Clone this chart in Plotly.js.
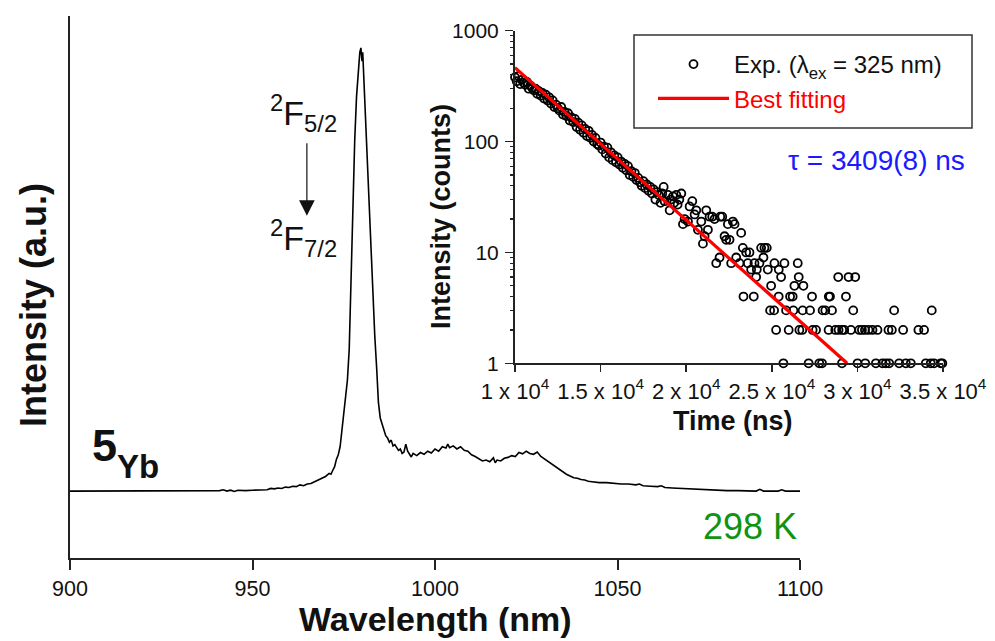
<!DOCTYPE html>
<html>
<head>
<meta charset="utf-8">
<script src="https://cdn.plot.ly/plotly-3.0.1.min.js"></script>
<style>html,body{margin:0;padding:0;background:#fff}#chart{width:995px;height:641px}</style>
</head>
<body>
<div id="chart"></div>
<script>
// ---- Main emission spectrum (298 K) ----
const wavelengthNm = [900,940,941,942,943,944,945,946,947,948,950,952,954,955,956,957,958,959,960,961,962,963,964,965,966,967,968,969,970,971,971.5,972,972.5,973,973.5,974,974.5,975,975.5,976,976.5,977,977.5,978,978.5,979,979.4,979.7,980,980.2,980.5,981,981.5,982,982.5,983,983.5,984,984.5,985,985.5,986,986.5,987,987.5,988,988.5,989,989.5,990,990.5,991,991.5,992,992.5,993,993.5,994,995,996,997,998,999,1000,1001,1002,1003,1003.5,1004,1005,1006,1007,1008,1009,1010,1011,1012,1013,1014,1015,1016,1016.5,1017,1018,1019,1020,1021,1022,1023,1024,1025,1026,1027,1028,1029,1030,1031,1032,1033,1034,1035,1036,1037,1038,1039,1040,1041,1042,1043,1045,1047,1049,1051,1053,1055,1056,1057,1059,1061,1062,1063,1065,1067,1069,1071,1073,1075,1078,1080,1083,1088,1089,1090,1094,1095,1096,1100];
const intensityAu = [0,0,0.001,0.003,0,0.002,-0.001,0.002,0.001,0.001,0.002,0.002,0.003,0.006,0.005,0.007,0.006,0.009,0.008,0.011,0.010,0.014,0.012,0.016,0.017,0.021,0.025,0.030,0.033,0.040,0.038,0.047,0.055,0.072,0.082,0.100,0.14,0.18,0.21,0.25,0.32,0.50,0.66,0.79,0.89,0.95,0.99,1.0,0.97,0.99,0.93,0.83,0.72,0.62,0.52,0.43,0.35,0.28,0.20,0.165,0.15,0.14,0.125,0.12,0.11,0.115,0.102,0.105,0.098,0.092,0.095,0.085,0.088,0.106,0.09,0.082,0.077,0.085,0.08,0.087,0.083,0.09,0.086,0.095,0.09,0.1,0.097,0.106,0.098,0.102,0.095,0.1,0.092,0.09,0.082,0.078,0.072,0.068,0.07,0.066,0.075,0.064,0.07,0.068,0.074,0.076,0.08,0.078,0.087,0.084,0.09,0.085,0.083,0.088,0.078,0.072,0.066,0.06,0.055,0.048,0.043,0.038,0.034,0.03,0.029,0.026,0.025,0.022,0.021,0.019,0.019,0.017,0.016,0.016,0.014,0.016,0.012,0.011,0.010,0.012,0.008,0.007,0.006,0.005,0.004,0.003,0.002,0.002,0.001,0.001,0,0.004,0,0,0.003,0,0];
const wavelengthTicks = [900,950,1000,1050,1100];

// ---- Inset: decay curve ----
const timeNs = [10000,10100,10200,10300,10400,10500,10600,10700,10800,10900,11000,11100,11200,11300,11400,11500,11600,11700,11800,11900,12000,12100,12200,12300,12400,12500,12600,12700,12800,12900,13000,13100,13200,13300,13400,13500,13600,13700,13800,13900,14000,14100,14200,14300,14400,14500,14600,14700,14800,14900,15000,15100,15200,15300,15400,15500,15600,15700,15800,15900,16000,16100,16200,16300,16400,16500,16600,16700,16800,16900,17000,17100,17200,17300,17400,17500,17600,17700,17800,17900,18000,18100,18200,18300,18400,18500,18600,18684,18742,18937,19034,19100,19228,19300,19422,19500,19600,19714,19811,19908,20102,20200,20355,20491,20588,20685,20880,20977,21074,21171,21268,21365,21521,21657,21754,21948,21987,22104,22240,22337,22434,22531,22628,22726,22823,22920,23114,23211,23308,23346,23503,23600,23697,23794,23946,23988,24086,24124,24280,24377,24513,24571,24707,24766,24902,24960,25135,25154,25252,25403,25407,25543,25677,25737,25835,25986,26068,26219,26260,26320,26515,26573,26610,26780,26802,26845,27152,27233,27350,27385,27583,27775,27933,27968,28125,28318,28330,28399,28516,28708,28880,28900,29098,29110,29232,29332,29483,29623,29757,29873,30008,30107,30264,30440,30456,30649,30882,31080,31173,31464,31663,31814,31855,32012,32146,32438,32671,32828,33120,33563,33895,33994,34285,34343,34478,34868,34961];
const counts = [380,350,390,330,360,340,325,345,300,320,305,290,300,270,285,260,275,245,265,235,250,220,235,205,215,200,190,205,175,185,170,180,155,165,150,160,135,148,128,140,120,130,112,125,108,115,100,108,95,92,98,85,90,78,88,72,80,68,75,65,72,62,66,58,63,55,60,50,54,48,52,45,47,43,40,44,38,41,36,39,34,37,30,35,33,28,34,39,29,33,24,30,32,28,33,27,30,34,18,20,19,26,29,22,24,16,19,12,14,24,16,21,21,20,8,9,21,21,14,13,18,13,8,19,18,9,8,15,11,4,10,8,10,7,4,8,6,7,8,11,9,11,11,7,3,5,3,8,2,4,7,6,1,8,3,2,4,4,3,5,8,6,2,2,3,5,1,3,4,2,2,1,1,3,3,2,4,4,3,2,6,2,1,2,2,4,6,2,3,6,1,2,2,2,1,2,2,1,2,1,1,2,1,2,3,1,2,1,1,2,2,1,1,3,1,1,1];
const fitTimeNs = [10000, 29400];
const fitCounts = [465, 1];
const timeTickVals = [10000,15000,20000,25000,30000,35000];
const timeTickText = ['1 x 10<sup>4</sup>','1.5 x 10<sup>4</sup>','2 x 10<sup>4</sup>','2.5 x 10<sup>4</sup>','3 x 10<sup>4</sup>','3.5 x 10<sup>4</sup>'];
const countTickVals = [1,10,100,1000];
const countMinorTicks = [2,3,4,5,6,7,8,9,20,30,40,50,60,70,80,90,200,300,400,500,600,700,800,900];

const FONT = 'Liberation Sans, Arial, sans-serif';
const W = 995, H = 641;
const px = v => v / W, py = v => 1 - v / H;

const traces = [
  {x: wavelengthNm, y: intensityAu, xaxis:'x', yaxis:'y', mode:'lines',
   line:{color:'#000', width:1.6}, showlegend:false, hoverinfo:'skip'},
  {x: [], y: [], xaxis:'x2', yaxis:'y3', mode:'markers', showlegend:false},
  {x: timeNs, y: counts, xaxis:'x2', yaxis:'y2', mode:'markers', cliponaxis:false,
   name:'Exp. (λ<sub>ex</sub> = 325 nm)',
   marker:{symbol:'circle-open', size:8, color:'#000', line:{width:1.8, color:'#000'}}},
  {x: fitTimeNs, y: fitCounts, xaxis:'x2', yaxis:'y2', mode:'lines', cliponaxis:false,
   name:'<span style="color:#ff0000">Best fitting</span>',
   line:{color:'#ff0000', width:3.2}}
];

const ann = (text, x, y, size, color, extra) => Object.assign({
  text, xref:'paper', yref:'paper', x:px(x), y:py(y), xanchor:'center', yanchor:'middle',
  showarrow:false, font:{size, color}}, extra || {});

const layout = {
  width: W, height: H, autosize:false,
  margin:{l:0,r:0,t:0,b:0},
  paper_bgcolor:'#fff', plot_bgcolor:'rgba(0,0,0,0)',
  font:{family:FONT, color:'#111'},
  xaxis:{domain:[px(70), px(800)], range:[900,1100], tickvals:wavelengthTicks,
    ticks:'outside', ticklen:10, tickwidth:2, tickcolor:'#222', showline:true, linewidth:2, linecolor:'#222',
    showgrid:false, zeroline:false, tickfont:{size:21.5, color:'#111'}, ticklabelstandoff:0, anchor:'y'},
  yaxis:{domain:[py(558), py(16)], range:[-0.151,1.072], showticklabels:false, ticks:'',
    showline:true, linewidth:2, linecolor:'#222', showgrid:false, zeroline:false, anchor:'x'},
  xaxis2:{domain:[px(515), px(943)], range:[10000,35000], anchor:'y2',
    tickvals:timeTickVals, ticktext:timeTickText, ticks:'outside', ticklen:7, tickwidth:1.5, tickcolor:'#222',
    showline:true, linewidth:2, linecolor:'#222', showgrid:false, zeroline:false,
    tickfont:{size:22, color:'#111'}, ticklabelstandoff:0},
  yaxis2:{domain:[py(363.3), py(30.7)], type:'log', range:[0,3], anchor:'x2',
    tickvals:countTickVals, ticks:'outside', ticklen:8, tickwidth:1.5, tickcolor:'#222',
    showline:true, linewidth:2, linecolor:'#222', showgrid:false, zeroline:false,
    tickfont:{size:21, color:'#111'}, ticklabelstandoff:2},
  yaxis3:{overlaying:'y2', anchor:'x2', side:'left', type:'log', range:[0,3],
    tickvals:countMinorTicks, ticks:'outside', ticklen:4, tickwidth:1.2, tickcolor:'#222',
    showticklabels:false, showline:false, showgrid:false, zeroline:false},
  showlegend:true,
  legend:{x:px(653), y:py(42), xanchor:'left', yanchor:'top', bgcolor:'rgba(0,0,0,0)',
    borderwidth:0, font:{size:24, family:FONT, color:'#111'},
    itemwidth:71, tracegroupgap:0},
  shapes:[
    {type:'rect', xref:'paper', yref:'paper', x0:px(634), x1:px(972), y0:py(35), y1:py(128),
     line:{color:'#333', width:1.5}, fillcolor:'rgba(0,0,0,0)', layer:'below'}
  ],
  annotations:[
    ann('<b>Intensity (a.u.)</b>', 33, 305, 36, '#111', {textangle:-90}),
    ann('<b>Wavelength (nm)</b>', 435, 619, 34, '#111'),
    ann('<b>Intensity (counts)</b>', 441, 217, 27, '#111', {textangle:-90}),
    ann('<b>Time (ns)</b>', 733, 421, 27, '#111'),
    ann('τ = 3409(8) ns', 967, 160, 28, '#1a1aff', {xanchor:'right'}),
    ann('298 K', 799, 526, 36, '#109410', {xanchor:'right'}),
    ann('<b>5</b>', 90, 445, 45, '#111', {xanchor:'left'}),
    ann('<b>Yb</b>', 115, 466, 33, '#111', {xanchor:'left'}),
    ann('<sup>2</sup>F<sub>5/2</sub>', 268, 113, 34, '#111', {xanchor:'left'}),
    ann('<sup>2</sup>F<sub>7/2</sub>', 268, 238, 34, '#111', {xanchor:'left'}),
    {text:'', xref:'x', yref:'y', x:964.9, y:0.621, axref:'x', ayref:'y', ax:964.9, ay:0.788,
     showarrow:true, arrowhead:2, arrowsize:2.6, arrowwidth:1.2, arrowcolor:'#111'}
  ]
};

Plotly.newPlot('chart', traces, layout, {staticPlot:true, displayModeBar:false});
</script>
</body>
</html>
